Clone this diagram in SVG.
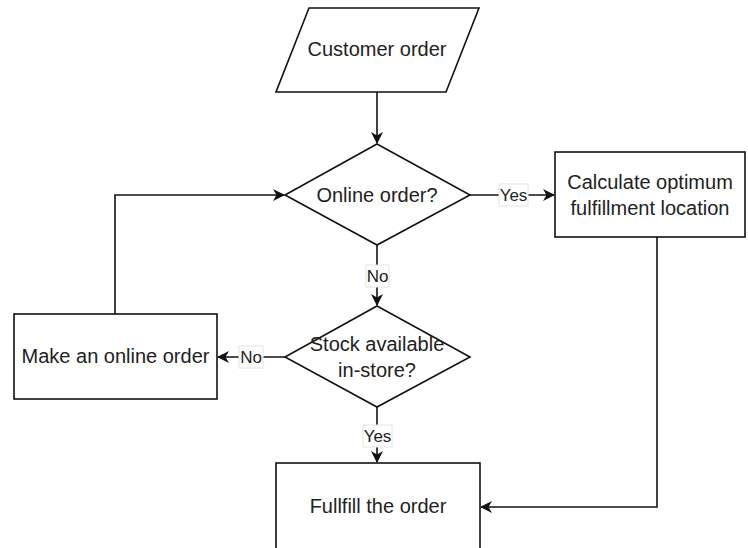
<svg xmlns="http://www.w3.org/2000/svg" width="748" height="548" viewBox="0 0 748 548">
<defs>
<marker id="arr" viewBox="0 0 12 12" refX="11" refY="6" markerWidth="12" markerHeight="12" markerUnits="userSpaceOnUse" orient="auto">
<path d="M0,0 L12,6 L0,12 L3.5,6 z" fill="#111"/>
</marker>
<style>
.shape{fill:#fff;stroke:#111;stroke-width:1.6}
.t{font-family:"Liberation Sans",Arial,sans-serif;font-size:20px;fill:#222;text-anchor:middle;dominant-baseline:central}
.lt{font-family:"Liberation Sans",Arial,sans-serif;font-size:17px;fill:#222;text-anchor:middle;dominant-baseline:central}
.edge{fill:none;stroke:#111;stroke-width:1.6}
.lb{fill:#fff;stroke:#e4e4e4;stroke-width:1}
</style>
</defs>
<rect width="748" height="548" fill="#fff"/>
<g id="connectors">
<path class="edge" d="M377,92 V143" marker-end="url(#arr)"/>
<path class="edge" d="M470,195 H554" marker-end="url(#arr)"/>
<path class="edge" d="M377,245 V305" marker-end="url(#arr)"/>
<path class="edge" d="M285,357 H218" marker-end="url(#arr)"/>
<path class="edge" d="M115,314 V195 H284" marker-end="url(#arr)"/>
<path class="edge" d="M377,407 V462" marker-end="url(#arr)"/>
<path class="edge" d="M657,237 V507 H481" marker-end="url(#arr)"/>
<g id="label-yes1"><rect class="lb" x="499" y="184" width="29" height="22"/><text class="lt" x="513.5" y="195">Yes</text></g>
<g id="label-no1"><rect class="lb" x="366" y="265" width="23" height="22"/><text class="lt" x="377.5" y="276">No</text></g>
<g id="label-no2"><rect class="lb" x="239" y="346" width="24" height="22"/><text class="lt" x="251" y="357">No</text></g>
<g id="label-yes2"><rect class="lb" x="363" y="425" width="29" height="22"/><text class="lt" x="377.5" y="436">Yes</text></g>
</g>
<g id="customer-order">
<polygon class="shape" points="309,8 479,8 446,92 276,92"/>
<text class="t" x="377" y="49">Customer order</text>
</g>
<g id="online-order">
<polygon class="shape" points="377,144 470,195 377,245 285,195"/>
<text class="t" x="377" y="195">Online order?</text>
</g>
<g id="calculate">
<rect class="shape" x="555" y="152" width="190" height="85"/>
<text class="t" x="650" y="182">Calculate optimum</text>
<text class="t" x="650" y="208">fulfillment location</text>
</g>
<g id="stock">
<polygon class="shape" points="377,306 470,357 377,407 285,357"/>
<text class="t" x="377" y="344">Stock available</text>
<text class="t" x="377" y="370">in-store?</text>
</g>
<g id="make-online">
<rect class="shape" x="14" y="314" width="203" height="85"/>
<text class="t" x="115.5" y="356">Make an online order</text>
</g>
<g id="fulfill">
<rect class="shape" x="276" y="463" width="204" height="86"/>
<text class="t" x="378" y="506">Fullfill the order</text>
</g>
</svg>
